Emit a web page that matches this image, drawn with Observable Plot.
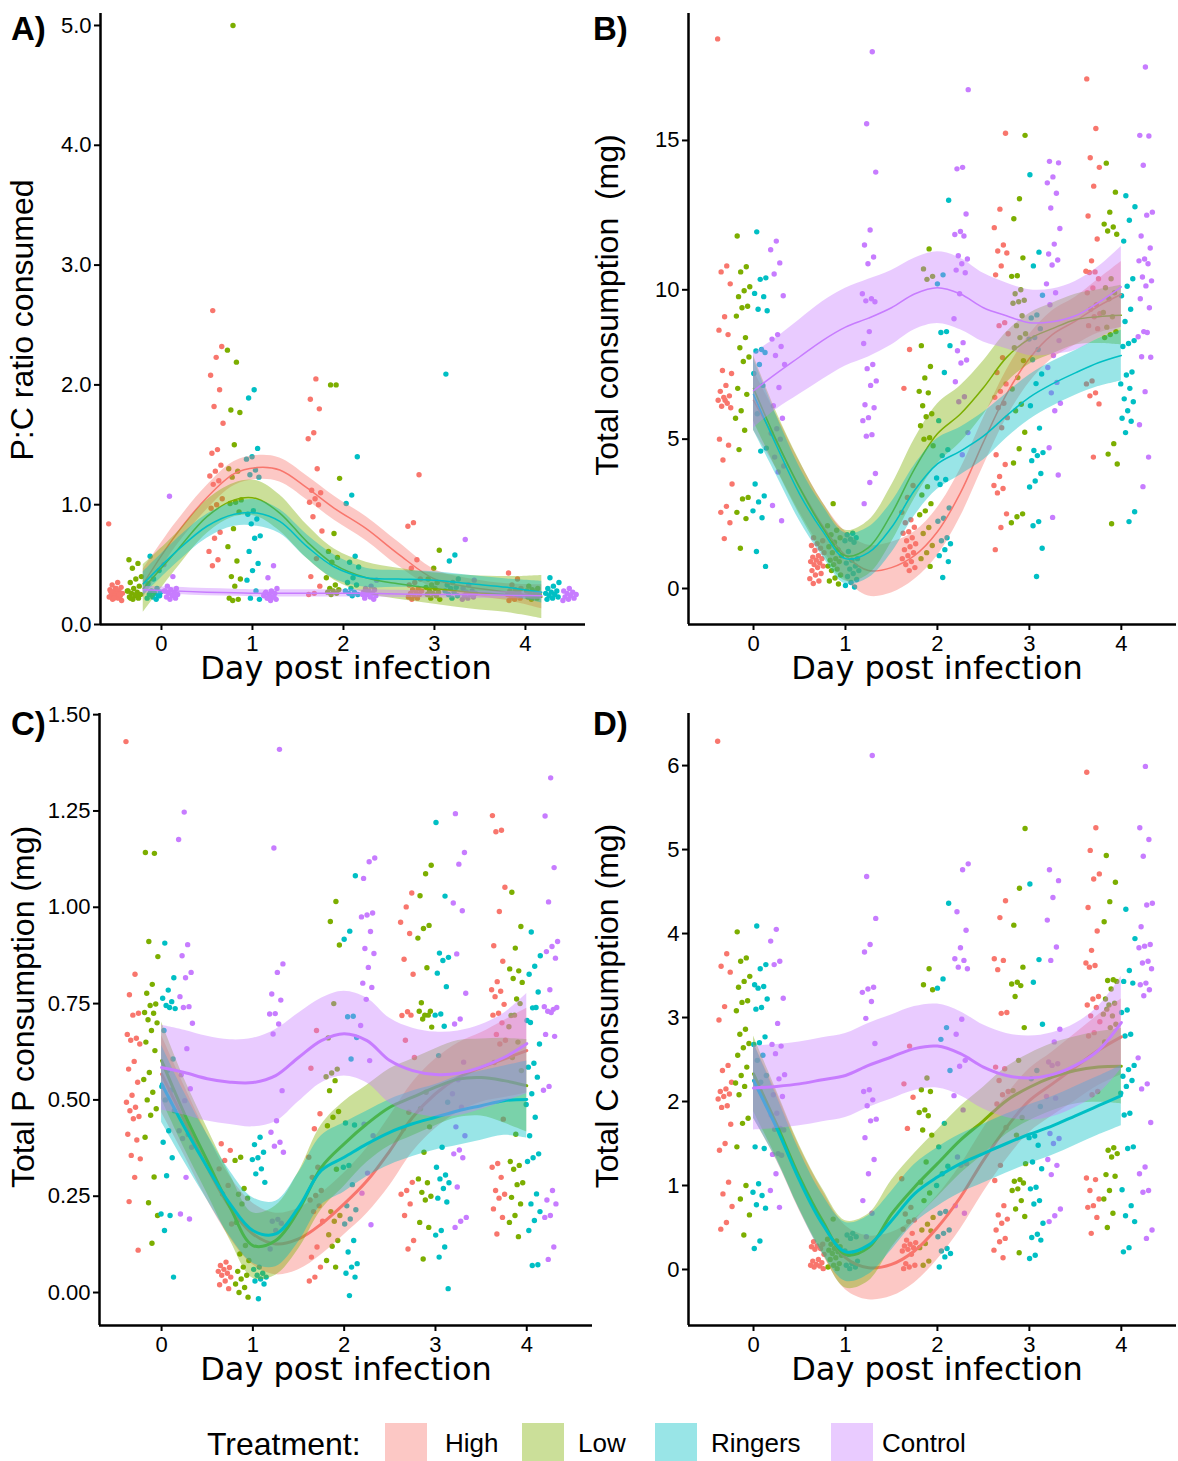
<!DOCTYPE html>
<html><head><meta charset="utf-8">
<script src="https://cdn.jsdelivr.net/npm/d3@7"></script>
<script src="https://cdn.jsdelivr.net/npm/@observablehq/plot@0.6"></script>
<style>
body{margin:0;background:#fff;}
#wrap{position:relative;width:1178px;height:1461px;overflow:hidden;background:#fff;}
</style></head><body><div id="wrap"></div>
<script>
const treatments = ["High","Low","Ringers","Control"];
const colors = ["#F8766D","#7CAE00","#00BFC4","#C77CFF"];
const days = [0,1,2,3,4];

// ---------- Panel A: P:C ratio (one inner list per day 0..4)
const A_High = [
 [0.84,0.35,0.33,0.31,0.3,0.29,0.28,0.27,0.26,0.26,0.25,0.24,0.24,0.23,0.22,0.21,0.2,0.3,0.28,0.25,0.22],
 [2.62,2.32,2.23,2.08,1.96,1.82,1.68,1.46,1.43,1.33,1.28,1.24,1.2,1.17,1.05,1.0,0.97,0.77,0.72,0.61,0.54,0.49],
 [2.05,1.88,1.8,1.6,1.55,1.3,1.12,1.1,1.05,1.02,1.0,0.9,0.78,0.55,0.4,0.32,0.26,0.25],
 [1.25,0.85,0.82,0.54,0.47,0.38,0.35,0.33,0.3,0.29,0.28,0.27,0.26,0.25,0.24,0.23,0.22,0.21],
 [0.43,0.38,0.33,0.3,0.29,0.28,0.27,0.26,0.25,0.24,0.23,0.22,0.21,0.2]];
const A_Low = [
 [0.54,0.51,0.47,0.4,0.38,0.35,0.32,0.3,0.28,0.27,0.26,0.25,0.24,0.23,0.22,0.21,0.28,0.25,0.22],
 [5.0,2.29,2.19,1.79,1.77,1.5,1.3,1.28,1.23,1.04,1.02,1.01,0.94,0.8,0.65,0.53,0.4,0.38,0.32,0.22,0.21,0.2],
 [2.0,2.0,1.22,0.76,0.61,0.56,0.52,0.39,0.33,0.3,0.29,0.28,0.27,0.26,0.25],
 [0.62,0.47,0.38,0.35,0.33,0.31,0.3,0.28,0.27,0.26,0.25,0.24,0.22,0.21],
 [0.32,0.3,0.29,0.28,0.27,0.26,0.25,0.24,0.23,0.22,0.21]];
const A_Ringers = [
 [0.57,0.45,0.38,0.34,0.3,0.28,0.27,0.26,0.25,0.24,0.23,0.22,0.21,0.27,0.24],
 [1.96,1.89,1.47,1.4,1.38,1.29,1.25,1.23,0.95,0.92,0.88,0.84,0.74,0.72,0.61,0.51,0.45,0.37,0.28,0.22,0.21],
 [1.4,1.08,1.01,0.57,0.52,0.48,0.39,0.35,0.33,0.3,0.28,0.27,0.26,0.25,0.24],
 [2.09,0.58,0.53,0.38,0.35,0.33,0.31,0.3,0.28,0.27,0.25,0.24,0.22],
 [0.39,0.35,0.32,0.3,0.28,0.27,0.26,0.25,0.24,0.23,0.22,0.21]];
const A_Control = [
 [1.07,0.5,0.4,0.32,0.3,0.29,0.28,0.27,0.26,0.25,0.24,0.23,0.22,0.21,0.28,0.25],
 [0.49,0.39,0.3,0.28,0.27,0.26,0.25,0.24,0.23,0.22,0.21,0.2,0.26,0.23,0.22],
 [0.37,0.32,0.3,0.29,0.28,0.27,0.26,0.25,0.24,0.23,0.22,0.21,0.27,0.25],
 [0.71,0.37,0.33,0.3,0.28,0.27,0.26,0.25,0.24,0.23,0.22,0.21],
 [0.3,0.28,0.27,0.26,0.25,0.24,0.23,0.22,0.21,0.2]];
const A_fitX = [-0.2,0.15,0.5,0.8,1.05,1.3,1.6,1.9,2.25,2.6,3.0,3.4,3.8,4.18];
const A_fit_High    = [0.34,0.74,1.06,1.26,1.31,1.29,1.14,0.97,0.80,0.59,0.38,0.31,0.27,0.23];
const A_fit_Low     = [0.30,0.60,0.90,1.04,1.05,0.93,0.69,0.50,0.39,0.34,0.30,0.27,0.25,0.23];
const A_fit_Ringers = [0.34,0.60,0.82,0.92,0.93,0.86,0.65,0.48,0.39,0.38,0.37,0.34,0.31,0.27];
const A_fit_Control = [0.29,0.28,0.27,0.265,0.26,0.26,0.26,0.26,0.26,0.255,0.25,0.25,0.245,0.24];
const A_se_High    = [0.12,0.1,0.1,0.1,0.1,0.1,0.1,0.1,0.1,0.1,0.08,0.07,0.07,0.1];
const A_se_Low     = [0.2,0.15,0.14,0.14,0.15,0.15,0.14,0.13,0.13,0.13,0.13,0.14,0.15,0.18];
const A_se_Ringers = [0.1,0.1,0.1,0.1,0.11,0.1,0.1,0.1,0.08,0.07,0.07,0.07,0.07,0.09];
const A_se_Control = [0.03,0.03,0.03,0.03,0.03,0.03,0.03,0.03,0.03,0.03,0.03,0.03,0.03,0.03];
const A_dayPos = [0,1.1,2.19,3.28,4.38];
const A_groupOff = [-0.5,-0.3,-0.09,0.1];
const A_yTicks = [0,1,2,3,4,5];

// ---------- Panel B: total consumption
const B_High = [
 [18.4,10.8,10.6,10.2,9.1,8.65,8.5,7.3,7.2,6.8,6.6,6.45,6.4,6.3,6.2,6.1,6.05,6.3,5.0,4.8,4.3,3.5,2.75,2.55,2.2,1.67],
 [1.7,1.6,1.5,1.44,1.35,1.27,1.2,1.1,1.05,1.0,0.95,0.9,0.85,0.8,0.75,0.7,0.6,0.5,0.45,0.33,0.25,0.17],
 [8.0,6.7,3.45,3.05,2.55,2.3,2.2,2.05,1.9,1.85,1.7,1.6,1.5,1.4,1.3,1.2,1.1,1.0,0.9,0.8,0.7,0.6],
 [15.24,12.7,12.08,11.5,11.3,11.23,10.8,10.5,8.9,8.8,8.53,7.73,7.23,6.85,6.6,6.4,6.2,6.05,5.72,5.38,4.48,4.15,3.75,3.45,3.35,3.2,2.5,2.04,1.3],
 [17.06,15.4,14.42,14.1,13.47,12.47,11.7,10.97,10.62,10.6,10.58,10.37,10.06,9.9,9.5,9.35,9.2,9.1,8.8,8.7,6.95,6.85,6.55,6.45,6.18,4.4]];
const B_Low = [
 [11.8,10.77,10.6,10.1,9.97,9.77,9.45,9.4,9.12,8.4,8.06,7.75,7.6,6.7,6.5,5.95,5.7,5.3,4.65,3.05,3.0,2.55,2.34,1.35],
 [2.84,2.1,1.95,1.8,1.7,1.55,1.4,1.3,1.2,1.1,1.0,0.95,0.9,0.8,0.75,0.65,0.6,0.45,0.35,0.25,0.15],
 [11.37,10.7,10.45,10.35,8.13,7.43,7.05,6.6,6.55,6.12,5.85,5.75,5.45,5.05,5.0,4.78,3.41,3.13,2.84,2.6,2.47,2.04,1.84,1.44,1.2,1.0,0.74],
 [15.17,13.05,12.38,11.07,10.47,10.45,10.0,9.87,9.65,9.6,9.55,9.13,8.8,8.53,8.4,8.06,7.63,7.06,6.68,6.17,5.95,5.23,4.68,4.2,2.5,2.4,2.2],
 [14.24,13.27,12.6,12.2,12.1,11.97,11.86,10.37,10.07,9.9,9.7,9.24,9.1,8.75,8.6,8.5,8.4,4.85,4.5,4.17,2.17]];
const B_Ringers = [
 [11.94,10.4,10.35,9.88,9.77,9.35,9.3,8.0,7.95,7.9,7.5,7.2,6.8,5.85,4.7,4.6,3.5,3.1,2.9,2.6,2.37,1.24,0.74],
 [1.85,1.8,1.7,1.65,1.6,1.55,1.24,1.0,0.95,0.85,0.75,0.65,0.6,0.5,0.4,0.3,0.2,0.1,0.05],
 [13.0,10.5,10.2,8.6,8.57,8.13,7.23,5.62,4.65,4.45,3.7,3.65,3.48,2.7,2.35,2.25,1.7,1.6,1.5,1.3,1.1,0.9,0.37],
 [13.85,11.26,10.8,9.82,9.16,9.06,8.7,8.4,8.35,8.0,7.66,7.18,6.86,6.12,5.37,4.62,4.55,4.45,4.28,3.85,3.6,3.4,2.24,2.1,1.35,0.4],
 [13.15,12.78,12.33,11.63,10.37,10.12,9.8,9.35,8.94,8.3,8.2,8.1,7.25,7.15,6.85,6.7,6.35,6.25,5.95,5.7,5.6,5.22,2.57,2.24]];
const B_Control = [
 [11.63,11.34,10.9,10.53,9.8,8.5,8.35,8.1,7.8,7.5,6.73,6.12,5.7,5.35,5.2,5.0,4.4,4.1,3.9,2.78,2.27],
 [17.97,15.56,13.94,12.0,11.5,11.1,10.87,9.87,9.7,9.63,9.6,8.6,8.2,7.5,7.36,6.95,6.8,6.15,6.05,5.72,5.62,5.15,5.1,3.85,3.55,2.84],
 [16.7,14.1,14.05,12.54,11.95,11.85,11.8,11.14,11.03,10.87,10.66,10.57,9.87,9.03,8.23,7.96,7.65,7.55,6.92,6.42,6.25,5.22,4.48],
 [14.3,14.25,13.78,13.58,13.23,12.74,12.05,11.53,11.2,11.0,10.83,10.2,9.9,9.5,8.3,7.8,7.4,6.9,6.55,6.2,5.95,4.71,3.8,2.38],
 [17.46,15.17,15.15,14.17,12.6,12.5,11.8,11.4,11.03,10.97,10.87,10.43,10.3,10.13,9.7,9.4,8.6,8.43,8.57,7.76,7.74,6.59,5.48,4.4,3.41]];
const fitX = [0,0.25,0.5,0.75,1,1.25,1.5,1.75,2,2.25,2.5,2.75,3,3.25,3.5,3.75,4];
const B_fit_High    = [6.3,4.9,3.4,2.1,1.1,0.6,0.7,1.1,1.9,3.2,4.9,6.5,7.7,8.5,8.95,9.45,9.85];
const B_fit_Low     = [6.7,4.95,3.38,2.04,1.1,1.37,2.5,4.0,5.18,5.84,6.72,7.73,8.36,8.7,9.0,9.1,9.15];
const B_fit_Ringers = [6.5,4.78,3.17,1.93,1.0,1.2,2.04,3.28,4.17,4.6,5.1,5.78,6.4,6.85,7.22,7.56,7.8];
const B_fit_Control = [6.62,7.2,7.75,8.3,8.75,9.05,9.4,9.86,10.07,9.86,9.4,9.13,8.9,8.93,9.13,9.57,10.1];
const B_se_High    = [1.0,0.9,0.85,0.8,0.8,0.85,0.85,0.8,0.8,0.8,0.8,0.8,0.8,0.8,0.8,0.9,1.1];
const B_se_Low     = [1.1,0.95,0.9,0.85,0.85,0.9,0.95,1.0,1.0,0.95,0.9,0.85,0.85,0.85,0.85,0.9,1.0];
const B_se_Ringers = [1.2,1.0,0.9,0.85,0.85,0.85,0.85,0.85,0.85,0.8,0.8,0.75,0.75,0.75,0.75,0.8,0.85];
const B_se_Control = [1.25,1.2,1.25,1.3,1.3,1.3,1.25,1.2,1.2,1.2,1.15,1.1,1.1,1.1,1.15,1.2,1.35];
const B_yTicks = [0,5,10,15];

// ---------- Panel C: total P consumption
const C_High = [
 [1.43,0.826,0.773,0.725,0.72,0.67,0.66,0.655,0.645,0.6,0.58,0.546,0.512,0.494,0.481,0.472,0.457,0.451,0.411,0.396,0.356,0.347,0.299,0.236,0.11],
 [0.386,0.369,0.343,0.321,0.278,0.256,0.178,0.079,0.07,0.065,0.06,0.055,0.05,0.045,0.04,0.03,0.02,0.01],
 [0.68,0.582,0.464,0.425,0.351,0.325,0.299,0.265,0.252,0.24,0.225,0.21,0.185,0.118,0.092,0.066,0.04,0.03],
 [1.037,1.001,0.961,0.932,0.865,0.826,0.729,0.719,0.72,0.655,0.61,0.468,0.425,0.286,0.265,0.255,0.23,0.2,0.135,0.113],
 [1.238,1.2,1.196,1.052,0.989,0.9,0.86,0.807,0.786,0.782,0.768,0.748,0.725,0.72,0.7,0.67,0.655,0.645,0.597,0.45,0.335,0.325,0.299,0.265,0.255,0.245,0.217,0.195,0.152]];
const C_Low = [
 [1.142,1.14,0.911,0.872,0.8,0.777,0.749,0.745,0.727,0.725,0.708,0.7,0.68,0.65,0.628,0.571,0.553,0.52,0.5,0.477,0.46,0.403,0.3,0.233,0.2,0.128],
 [0.351,0.343,0.27,0.255,0.245,0.23,0.182,0.122,0.1,0.083,0.066,0.055,0.045,0.035,0.022,0.013,0.0,-0.012],
 [1.015,0.963,0.902,0.75,0.661,0.58,0.57,0.56,0.55,0.524,0.47,0.455,0.433,0.32,0.21,0.2,0.185,0.15,0.135,0.12,0.083,0.066],
 [1.109,1.087,1.03,0.953,0.945,0.92,0.843,0.752,0.73,0.72,0.73,0.72,0.71,0.689,0.52,0.477,0.43,0.364,0.295,0.285,0.26,0.25,0.24,0.182,0.169,0.087],
 [1.039,0.95,0.894,0.84,0.835,0.815,0.805,0.762,0.719,0.75,0.72,0.69,0.65,0.61,0.576,0.411,0.34,0.33,0.32,0.285,0.28,0.247,0.23,0.2,0.182,0.145]];
const C_Ringers = [
 [0.907,0.817,0.785,0.764,0.755,0.745,0.737,0.74,0.68,0.606,0.576,0.535,0.525,0.5,0.472,0.42,0.39,0.35,0.303,0.204,0.2,0.161,0.04],
 [0.403,0.384,0.364,0.35,0.345,0.321,0.308,0.286,0.066,0.06,0.05,0.045,0.04,0.035,0.03,0.022,-0.016],
 [1.082,0.938,0.917,0.717,0.716,0.662,0.606,0.44,0.435,0.33,0.325,0.28,0.225,0.215,0.191,0.178,0.135,0.105,0.075,0.066,0.05,0.04,-0.008],
 [1.22,1.029,0.881,0.87,0.862,0.829,0.794,0.723,0.72,0.691,0.615,0.494,0.377,0.325,0.305,0.295,0.285,0.27,0.245,0.235,0.161,0.149,0.118,0.092,0.01],
 [0.936,0.874,0.847,0.826,0.78,0.739,0.706,0.74,0.701,0.645,0.595,0.585,0.559,0.516,0.488,0.455,0.407,0.36,0.35,0.34,0.256,0.23,0.21,0.187,0.161,0.072,0.07]];
const C_Control = [
 [1.247,1.176,0.903,0.874,0.831,0.817,0.768,0.742,0.74,0.699,0.633,0.565,0.529,0.498,0.42,0.41,0.4,0.377,0.299,0.204,0.191],
 [1.41,1.154,0.853,0.831,0.775,0.759,0.724,0.723,0.697,0.671,0.524,0.446,0.416,0.39,0.38,0.364,0.19,0.185,0.18,0.161,0.113],
 [1.128,1.118,1.075,0.985,0.98,0.975,0.937,0.893,0.88,0.844,0.803,0.792,0.761,0.693,0.602,0.437,0.407,0.31,0.258,0.176],
 [1.243,1.142,1.112,1.011,0.991,0.879,0.777,0.71,0.697,0.598,0.552,0.516,0.481,0.43,0.407,0.37,0.36,0.35,0.274,0.195,0.185,0.169],
 [1.336,1.237,1.103,1.014,0.911,0.898,0.885,0.868,0.786,0.742,0.735,0.73,0.74,0.727,0.67,0.665,0.535,0.525,0.265,0.24,0.23,0.2,0.195,0.118,0.086]];
const C_fit_High    = [0.567,0.446,0.325,0.221,0.152,0.126,0.139,0.178,0.230,0.290,0.368,0.455,0.516,0.558,0.584,0.606,0.628];
const C_fit_Low     = [0.602,0.464,0.342,0.221,0.122,0.135,0.213,0.325,0.386,0.438,0.481,0.507,0.533,0.554,0.558,0.550,0.537];
const C_fit_Ringers = [0.542,0.429,0.325,0.230,0.161,0.152,0.221,0.317,0.351,0.386,0.416,0.438,0.455,0.472,0.485,0.498,0.501];
const C_fit_Control = [0.584,0.571,0.555,0.546,0.545,0.563,0.61,0.654,0.672,0.654,0.602,0.576,0.566,0.569,0.585,0.61,0.646];
const C_se_High    = [0.1,0.09,0.085,0.08,0.08,0.08,0.08,0.08,0.08,0.085,0.09,0.09,0.09,0.09,0.09,0.1,0.11];
const C_se_Low     = [0.1,0.09,0.085,0.085,0.085,0.09,0.1,0.11,0.11,0.1,0.1,0.1,0.1,0.1,0.1,0.11,0.12];
const C_se_Ringers = [0.1,0.09,0.085,0.085,0.085,0.085,0.09,0.09,0.09,0.085,0.085,0.085,0.085,0.09,0.09,0.09,0.1];
const C_se_Control = [0.11,0.11,0.11,0.11,0.115,0.12,0.115,0.11,0.11,0.11,0.11,0.11,0.11,0.11,0.11,0.115,0.13];
const C_yTicks = [0,0.25,0.5,0.75,1,1.25,1.5];

// ---------- Panel D: total C consumption
const D_High = [
 [6.29,3.76,3.61,3.54,3.13,2.97,2.43,2.37,2.23,2.15,2.12,2.09,2.06,2.03,1.95,1.93,1.73,1.5,1.42,1.04,0.9,0.75,0.56,0.48],
 [0.33,0.3,0.28,0.27,0.25,0.24,0.18,0.12,0.1,0.08,0.06,0.05,0.04,0.03,0.01],
 [2.66,2.21,2.05,1.68,1.08,0.74,0.66,0.59,0.57,0.48,0.43,0.35,0.32,0.3,0.28,0.26,0.24,0.22,0.18,0.07,0.05,0.03,0.01],
 [4.39,4.19,3.7,3.68,3.57,3.06,3.05,2.41,2.39,2.25,2.12,2.08,1.97,1.69,1.24,1.06,0.76,0.65,0.6,0.55,0.47,0.37,0.33,0.23,0.14],
 [5.92,5.26,4.99,4.71,4.65,4.31,4.03,3.8,3.65,3.62,3.6,3.25,3.22,3.15,3.12,3.02,2.95,2.82,2.78,2.12,2.08,1.09,1.07,0.94,0.84,0.76,0.74,0.62,0.43]];
const D_Low = [
 [4.02,3.71,3.67,3.49,3.43,3.36,3.2,3.18,3.08,2.86,2.8,2.69,2.64,2.55,2.41,2.31,2.22,2.18,2.08,1.8,1.74,1.46,1.0,0.84,0.65,0.41],
 [0.6,0.36,0.34,0.3,0.27,0.25,0.23,0.21,0.19,0.17,0.14,0.12,0.07,0.05,0.03,0.01],
 [3.58,3.39,3.33,2.28,2.14,2.12,1.9,1.87,1.83,1.66,1.6,1.28,1.04,0.91,0.82,0.62,0.54,0.47,0.46,0.31,0.26,0.1,0.05],
 [5.25,4.54,4.1,3.6,3.42,3.4,3.38,3.25,2.88,2.49,2.13,1.81,1.6,1.26,1.07,1.05,1.03,0.96,0.94,0.82,0.72,0.63,0.2],
 [4.93,4.61,4.38,4.14,3.45,3.44,3.43,3.34,3.22,3.17,3.15,3.04,3.02,3.1,2.92,2.88,2.71,1.45,1.42,1.38,1.34,1.13,1.11,0.94,0.84,0.67,0.5]];
const D_Ringers = [
 [4.09,3.63,3.58,3.39,3.37,3.35,3.22,3.12,3.1,2.77,2.7,2.68,2.55,2.49,2.31,2.23,1.46,1.44,1.02,0.92,0.88,0.77,0.73,0.34,0.25],
 [0.43,0.41,0.39,0.37,0.22,0.2,0.18,0.1,0.07,0.05,0.03,0.01],
 [4.36,3.46,3.35,2.88,2.74,2.37,1.74,1.46,1.23,1.14,1.0,0.69,0.67,0.47,0.43,0.39,0.25,0.22,0.19,0.15,0.03],
 [4.59,3.69,3.42,2.92,2.37,2.27,1.94,1.59,1.57,1.48,1.28,1.2,0.98,0.96,0.82,0.78,0.55,0.42,0.38,0.35,0.17,0.13],
 [4.29,3.94,3.56,3.43,3.41,3.09,3.06,2.8,2.78,2.43,2.38,2.3,2.25,2.18,2.1,1.86,1.84,1.46,1.44,0.95,0.76,0.64,0.57,0.26,0.21]];
const D_Control = [
 [4.05,3.91,3.67,3.63,3.23,2.93,2.68,2.66,2.57,2.32,2.27,2.08,2.06,1.86,1.84,1.68,1.67,1.66,1.38,1.37,1.36,1.14,0.94,0.74],
 [6.12,4.68,4.18,3.87,3.78,3.36,3.34,3.3,3.19,2.99,2.69,2.14,2.12,2.02,1.95,1.79,1.77,1.57,1.31,1.14,0.82,0.67,0.39],
 [4.83,4.76,4.26,4.04,3.83,3.7,3.68,3.6,3.58,2.98,2.8,2.49,2.42,2.07,1.9,1.34,1.26,1.24,0.76,0.67],
 [4.76,4.63,4.43,4.16,3.84,3.68,2.86,2.71,2.47,2.45,2.43,2.06,2.04,1.62,1.56,1.5,1.31,1.24,1.13,0.72,0.64,0.57],
 [5.99,5.26,5.12,4.92,4.36,4.34,4.08,3.87,3.85,3.83,3.67,3.65,3.58,3.41,3.39,3.33,3.26,2.52,2.21,2.15,1.75,1.22,1.14,0.94,0.92,0.47,0.37]];
const D_fit_High    = [2.25,1.7,1.08,0.56,0.14,0.02,0.06,0.22,0.50,0.86,1.30,1.69,2.01,2.21,2.41,2.61,2.77];
const D_fit_Low     = [2.33,1.73,1.10,0.58,0.18,0.26,0.66,0.98,1.26,1.54,1.77,2.01,2.17,2.29,2.37,2.41,2.42];
const D_fit_Ringers = [2.25,1.69,1.06,0.54,0.21,0.29,0.58,0.90,1.10,1.26,1.38,1.50,1.61,1.71,1.83,1.95,2.07];
const D_fit_Control = [2.16,2.18,2.21,2.26,2.31,2.43,2.53,2.63,2.66,2.57,2.41,2.31,2.28,2.32,2.43,2.61,2.94];
const D_se_High    = [0.45,0.4,0.38,0.38,0.38,0.38,0.38,0.38,0.38,0.38,0.38,0.38,0.38,0.38,0.4,0.42,0.45];
const D_se_Low     = [0.45,0.4,0.38,0.38,0.4,0.4,0.4,0.4,0.4,0.4,0.4,0.4,0.4,0.4,0.4,0.42,0.45];
const D_se_Ringers = [0.45,0.38,0.35,0.35,0.35,0.35,0.35,0.35,0.35,0.35,0.35,0.35,0.35,0.35,0.35,0.35,0.36];
const D_se_Control = [0.5,0.5,0.5,0.5,0.5,0.5,0.5,0.5,0.5,0.5,0.5,0.5,0.5,0.5,0.5,0.52,0.55];
const D_yTicks = [0,1,2,3,4,5,6];

const dayPos = [0,1,2,3,4];
const groupOff = [-0.31,-0.12,0.07,0.26];

const wrap = document.getElementById("wrap");
const tickFont = "'Liberation Sans', Arial, sans-serif";

function makePanel(cfg) {
  const dots = [];
  treatments.forEach((t, k) => {
    cfg.pts[k].forEach((vals, d) => {
      vals.forEach((v, i) => {
        const u = ((i * 0.6180339887 + d * 0.2719 + k * 0.1414) % 1) - 0.5;
        dots.push({t, x: cfg.dayPos[d] + cfg.groupOff[k] + u * 0.16, y: v});
      });
    });
  });
  const marks = [Plot.dot(dots, {x: "x", y: "y", r: 2.7, fill: "t"})];
  treatments.forEach((t, k) => {
    const rows = cfg.fitX.map((x, i) => ({x, y: cfg.fit[k][i], lo: cfg.fit[k][i] - cfg.se[k][i], hi: cfg.fit[k][i] + cfg.se[k][i]}));
    marks.push(Plot.areaY(rows, {x: "x", y1: "lo", y2: "hi", fill: colors[k], fillOpacity: 0.4, curve: "catmull-rom"}));
    marks.push(Plot.lineY(rows, {x: "x", y: "y", stroke: colors[k], strokeWidth: cfg.lineW, curve: "catmull-rom"}));
  });
  marks.push(
    Plot.axisX({ticks: days, tickSize: 6, tickPadding: 5, strokeWidth: 2, fontSize: 22, tickFormat: d => String(d), label: null}),
    Plot.axisY({ticks: cfg.yTicks, tickSize: 6, tickPadding: 3, strokeWidth: 2, fontSize: 22, tickFormat: cfg.yFmt, label: null}),
    Plot.ruleY([cfg.yDomain[0]], {stroke: "black", strokeWidth: 2.5}),
    Plot.ruleX([cfg.xDomain[0]], {stroke: "black", strokeWidth: 2.5})
  );
  const p = Plot.plot({
    width: cfg.width, height: cfg.height,
    marginLeft: cfg.mL, marginRight: cfg.mR, marginTop: cfg.mT, marginBottom: cfg.mB,
    x: {domain: cfg.xDomain, label: null},
    y: {domain: cfg.yDomain, label: null},
    color: {domain: treatments, range: colors},
    style: {fontFamily: tickFont, fontSize: "22px", color: "black", background: "transparent", overflow: "visible"},
    marks
  });
  p.style.position = "absolute";
  p.style.left = cfg.left + "px";
  p.style.top = cfg.top + "px";
  wrap.appendChild(p);
}

makePanel({pts: [A_High, A_Low, A_Ringers, A_Control], fitX: A_fitX,
  fit: [A_fit_High, A_fit_Low, A_fit_Ringers, A_fit_Control], se: [A_se_High, A_se_Low, A_se_Ringers, A_se_Control],
  dayPos: A_dayPos, groupOff: A_groupOff, xDomain: [-0.67, 4.66], yDomain: [0, 5.1], yTicks: A_yTicks, yFmt: d3.format(".1f"),
  left: 0, top: 0, width: 590, height: 700, mL: 100, mR: 5, mT: 13, mB: 76, lineW: 1.5});
makePanel({pts: [B_High, B_Low, B_Ringers, B_Control], fitX: fitX,
  fit: [B_fit_High, B_fit_Low, B_fit_Ringers, B_fit_Control], se: [B_se_High, B_se_Low, B_se_Ringers, B_se_Control],
  dayPos: dayPos, groupOff: groupOff, xDomain: [-0.707, 4.6], yDomain: [-1.205, 19.25], yTicks: B_yTicks, yFmt: d => String(d),
  left: 590, top: 0, width: 588, height: 700, mL: 98, mR: 2, mT: 13, mB: 76, lineW: 1.5});
makePanel({pts: [C_High, C_Low, C_Ringers, C_Control], fitX: fitX,
  fit: [C_fit_High, C_fit_Low, C_fit_Ringers, C_fit_Control], se: [C_se_High, C_se_Low, C_se_Ringers, C_se_Control],
  dayPos: dayPos, groupOff: groupOff, xDomain: [-0.68, 4.72], yDomain: [-0.0856, 1.503], yTicks: C_yTicks, yFmt: d3.format(".2f"),
  left: 0, top: 700, width: 600, height: 700, mL: 99, mR: 8, mT: 13, mB: 75, lineW: 3});
makePanel({pts: [D_High, D_Low, D_Ringers, D_Control], fitX: fitX,
  fit: [D_fit_High, D_fit_Low, D_fit_Ringers, D_fit_Control], se: [D_se_High, D_se_Low, D_se_Ringers, D_se_Control],
  dayPos: dayPos, groupOff: groupOff, xDomain: [-0.707, 4.6], yDomain: [-0.667, 6.62], yTicks: D_yTicks, yFmt: d => String(d),
  left: 590, top: 700, width: 588, height: 700, mL: 98, mR: 2, mT: 13, mB: 75, lineW: 3});

// ---------- overlay text + legend
const NS = "http://www.w3.org/2000/svg";
const ov = document.createElementNS(NS, "svg");
ov.setAttribute("width", 1178); ov.setAttribute("height", 1461);
ov.style.position = "absolute"; ov.style.left = "0"; ov.style.top = "0"; ov.style.pointerEvents = "none";
wrap.appendChild(ov);
function txt(s, x, y, o = {}) {
  const t = document.createElementNS(NS, "text");
  t.textContent = s;
  t.setAttribute("x", x); t.setAttribute("y", y);
  t.setAttribute("font-size", o.size || 22);
  t.setAttribute("font-family", o.family || tickFont);
  if (o.weight) t.setAttribute("font-weight", o.weight);
  if (o.anchor) t.setAttribute("text-anchor", o.anchor);
  if (o.rotate) t.setAttribute("transform", `rotate(-90 ${x} ${y})`);
  t.style.whiteSpace = "pre";
  t.setAttribute("fill", "#000");
  ov.appendChild(t);
}
const panelLabels = [["A)", 11, 40], ["B)", 593, 40], ["C)", 11, 735], ["D)", 593, 735]];
panelLabels.forEach(([s, x, y]) => txt(s, x, y, {size: 33, weight: "bold"}));
const xTitle = "Day post infection";
[[346, 679], [937, 679], [346, 1380], [937, 1380]].forEach(([x, y]) =>
  txt(xTitle, x, y, {size: 32, family: "'DejaVu Sans', Verdana, sans-serif", anchor: "middle"}));
const yTitles = [["P:C ratio consumed", 33, 320], ["Total consumption  (mg)", 618, 305],
                 ["Total P consumption (mg)", 34, 1007], ["Total C consumption (mg)", 618, 1006]];
yTitles.forEach(([s, x, y]) => txt(s, x, y, {size: 32, anchor: "middle", rotate: true}));

txt("Treatment:", 207, 1455, {size: 32});
const legX = [385, 522, 655, 831];
const legLabelX = [445, 578, 711, 882];
treatments.forEach((t, k) => {
  const r = document.createElementNS(NS, "rect");
  r.setAttribute("x", legX[k]); r.setAttribute("y", 1423);
  r.setAttribute("width", 42); r.setAttribute("height", 38);
  r.setAttribute("fill", colors[k]); r.setAttribute("fill-opacity", 0.4);
  ov.appendChild(r);
  txt(t, legLabelX[k], 1452, {size: 26});
});
</script></body></html>
